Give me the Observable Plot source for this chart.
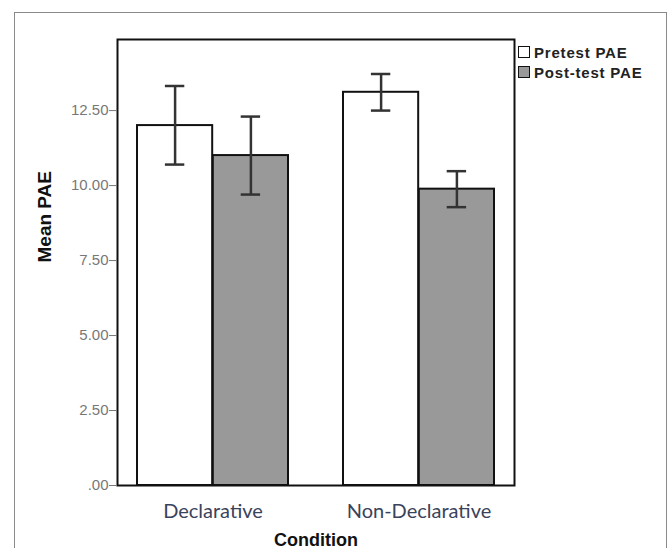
<!DOCTYPE html>
<html>
<head>
<meta charset="utf-8">
<script src="https://cdn.jsdelivr.net/npm/d3@7"></script>
<script src="https://cdn.jsdelivr.net/npm/@observablehq/plot@0.6"></script>
<style>
  html, body { margin: 0; padding: 0; background: #fff; }
  #wrap { position: relative; width: 671px; height: 548px; overflow: hidden; background: #fff; }
  #border { position: absolute; left: 14px; top: 12px; width: 653px; height: 600px; border: 1.5px solid #8a8a8a; box-sizing: border-box; }
  #chart { position: absolute; left: 0; top: 0; }
  #legend { position: absolute; left: 518px; top: 42px; font-family: "Liberation Sans", Arial, sans-serif; font-weight: bold; font-size: 15px; color: #222; letter-spacing: 0.8px; }
  .row { display: flex; align-items: center; height: 20px; }
  .sw { width: 10px; height: 10px; border: 1.5px solid #111; margin-right: 4px; box-sizing: content-box; }
</style>
</head>
<body>
<div id="wrap">
  <div id="border"></div>
  <div id="chart"></div>
  <div id="legend"></div>
</div>
<script>
const conditions = ["Declarative", "Non-Declarative"];
const seriesNames = ["Pretest PAE", "Post-test PAE"];
const seriesColors = ["#ffffff", "#999999"];
const pretestMean = [12.0, 13.11];
const pretestLow = [10.7, 12.5];
const pretestHigh = [13.32, 13.72];
const posttestMean = [11.0, 9.88];
const posttestLow = [9.7, 9.28];
const posttestHigh = [12.3, 10.48];
const yTicks = [0, 2.5, 5, 7.5, 10, 12.5];
const yTickLabels = [".00", "2.50", "5.00", "7.50", "10.00", "12.50"];

const W = 671, H = 548;
const mL = 117, mR = 157, mT = 39, mB = 63;
const pIn = 0.266, pOut = 0.094;
const step = (W - mL - mR) / (conditions.length - pIn + 2 * pOut);
const bw = step * (1 - pIn);
const capW = 20;

const pre = conditions.map((c, i) => ({condition: c, mean: pretestMean[i], lo: pretestLow[i], hi: pretestHigh[i]}));
const post = conditions.map((c, i) => ({condition: c, mean: posttestMean[i], lo: posttestLow[i], hi: posttestHigh[i]}));

const errMarks = (data, dx) => [
  Plot.ruleX(data, {x: "condition", y1: "lo", y2: "hi", dx, stroke: "#333", strokeWidth: 2.5}),
  Plot.tickY(data, {x: "condition", y: "lo", dx, insetLeft: (bw - capW) / 2, insetRight: (bw - capW) / 2, stroke: "#333", strokeWidth: 2.5}),
  Plot.tickY(data, {x: "condition", y: "hi", dx, insetLeft: (bw - capW) / 2, insetRight: (bw - capW) / 2, stroke: "#333", strokeWidth: 2.5})
];

const chart = Plot.plot({
  width: W, height: H,
  marginLeft: mL, marginRight: mR, marginTop: mT, marginBottom: mB,
  x: {domain: conditions, paddingInner: pIn, paddingOuter: pOut},
  y: {domain: [0, 14.87]},
  style: {background: "transparent"},
  marks: [
    Plot.barY(pre, {x: "condition", y: "mean", insetRight: bw / 2, fill: seriesColors[0], stroke: "#111", strokeWidth: 2}),
    Plot.barY(post, {x: "condition", y: "mean", insetLeft: bw / 2, fill: seriesColors[1], stroke: "#111", strokeWidth: 2}),
    ...errMarks(pre, -bw / 4),
    ...errMarks(post, bw / 4),
    Plot.frame({stroke: "#111", strokeWidth: 2}),
    Plot.axisY({ticks: yTicks, tickFormat: d => yTickLabels[yTicks.indexOf(d)], tickSize: 8, tickPadding: 1, fontSize: 15, fontFamily: "Liberation Sans, Arial, sans-serif", color: "#777", label: null}),
    Plot.axisX({tickSize: 0, tickPadding: 18, fontSize: 20, fontFamily: "Lato, sans-serif", color: "#3a435c", label: null}),
    Plot.text(["Mean PAE"], {text: d => d, frameAnchor: "left", dx: -73, rotate: -90, fontSize: 19, fontWeight: "bold", fontFamily: "Liberation Sans, Arial, sans-serif", fill: "#111"}),
    Plot.text(["Condition"], {text: d => d, frameAnchor: "bottom", dy: 60, fontSize: 18, fontWeight: "bold", fontFamily: "Liberation Sans, Arial, sans-serif", fill: "#111"})
  ]
});
document.getElementById("chart").appendChild(chart);

const legend = document.getElementById("legend");
seriesNames.forEach((n, i) => {
  const row = document.createElement("div");
  row.className = "row";
  const sw = document.createElement("div");
  sw.className = "sw";
  sw.style.background = seriesColors[i];
  const t = document.createElement("span");
  t.textContent = n;
  row.appendChild(sw);
  row.appendChild(t);
  legend.appendChild(row);
});
</script>
</body>
</html>
